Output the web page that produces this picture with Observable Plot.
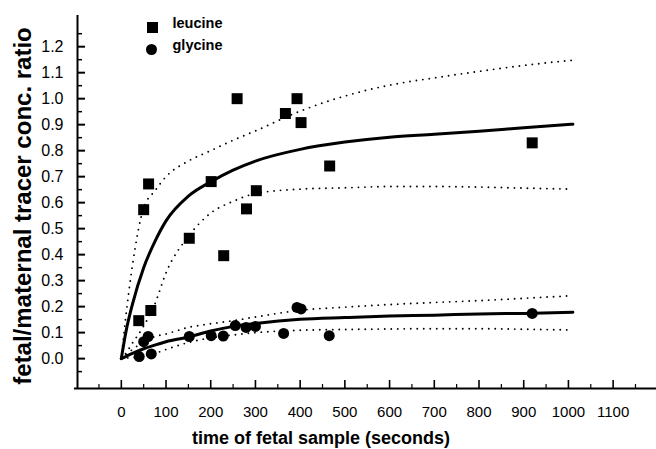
<!DOCTYPE html>
<html><head><meta charset="utf-8">
<script src="https://cdn.jsdelivr.net/npm/d3@7"></script>
<script src="https://cdn.jsdelivr.net/npm/@observablehq/plot@0.6"></script>
<style>body{margin:0;background:#fff}</style>
</head><body><div id="chart"></div>
<script>
const seriesNames = ["leucine", "glycine"];
const xTitle = "time of fetal sample (seconds)";
const yTitle = "fetal/maternal tracer conc. ratio";

const leucineTime  = [39, 50, 61, 66, 152, 201, 229, 259, 280, 302, 367, 393, 402, 466, 919];
const leucineRatio = [0.146, 0.573, 0.672, 0.185, 0.463, 0.681, 0.396, 1.0, 0.576, 0.646, 0.943, 1.0, 0.908, 0.741, 0.830];
const glycineTime  = [40, 50, 60, 67, 152, 201, 228, 255, 279, 300, 363, 393, 402, 465, 919];
const glycineRatio = [0.008, 0.065, 0.085, 0.018, 0.085, 0.088, 0.087, 0.127, 0.120, 0.124, 0.097, 0.197, 0.191, 0.088, 0.174];

const fitTime      = [0, 10, 25, 50, 75, 100, 150, 200, 250, 300, 400, 500, 600, 700, 800, 900, 1010];
const leucineFit   = [0, 0.10, 0.21, 0.35, 0.45, 0.53, 0.625, 0.68, 0.725, 0.76, 0.805, 0.833, 0.852, 0.863, 0.875, 0.888, 0.902];
const leucineUpper = [0, 0.16, 0.36, 0.58, 0.645, 0.70, 0.76, 0.80, 0.84, 0.876, 0.952, 1.01, 1.052, 1.08, 1.105, 1.128, 1.148];
const leucineLower = [0, 0.02, 0.06, 0.125, 0.21, 0.33, 0.47, 0.56, 0.605, 0.635, 0.652, 0.657, 0.662, 0.662, 0.66, 0.656, 0.652];
const glycineFit   = [0, 0.008, 0.02, 0.038, 0.052, 0.065, 0.083, 0.106, 0.124, 0.135, 0.151, 0.158, 0.164, 0.167, 0.172, 0.174, 0.178];
const glycineUpper = [0, 0.015, 0.035, 0.065, 0.085, 0.095, 0.12, 0.134, 0.146, 0.16, 0.186, 0.198, 0.208, 0.216, 0.223, 0.232, 0.242];
const glycineLower = [0, 0.002, 0.004, 0.01, 0.02, 0.035, 0.062, 0.08, 0.091, 0.1, 0.109, 0.112, 0.114, 0.115, 0.115, 0.113, 0.11];

const xMajor = [0, 100, 200, 300, 400, 500, 600, 700, 800, 900, 1000, 1100];
const xMinor = [-50, 50, 150, 250, 350, 450, 550, 650, 750, 850, 950, 1050, 1150];
const yMajor = [0, 0.1, 0.2, 0.3, 0.4, 0.5, 0.6, 0.7, 0.8, 0.9, 1.0, 1.1, 1.2];
const yMinor = [-0.05, 0.05, 0.15, 0.25, 0.35, 0.45, 0.55, 0.65, 0.75, 0.85, 0.95, 1.05, 1.15, 1.25];
const xDomain = [-98, 1197];
const yDomain = [-0.115, 1.32];

const pts = (xs, ys) => xs.map((x, i) => ({x, y: ys[i]}));
const leucine = pts(leucineTime, leucineRatio);
const glycine = pts(glycineTime, glycineRatio);
const solid = {x: "x", y: "y", stroke: "#000", strokeWidth: 3, curve: "monotone-x"};
const dotted = {x: "x", y: "y", stroke: "#000", strokeWidth: 1.9, strokeDasharray: "0,6.5", strokeLinecap: "round", curve: "monotone-x"};

const chart = Plot.plot({
  width: 656, height: 449,
  marginLeft: 77, marginRight: 0, marginTop: 15, marginBottom: 61,
  style: {fontFamily: "'Liberation Sans', Arial, sans-serif", background: "#fff", color: "#000"},
  x: {domain: xDomain, label: null},
  y: {domain: yDomain, label: null},
  marks: [
    Plot.ruleX([xDomain[0]], {stroke: "#000", strokeWidth: 2}),
    Plot.ruleY([yDomain[0]], {stroke: "#000", strokeWidth: 2, insetLeft: -3}),
    Plot.axisX(xMajor, {anchor: "bottom", tickSize: -8, strokeWidth: 1.6, fill: "none", label: null}),
    Plot.axisX(xMinor, {anchor: "bottom", tickSize: -4, strokeWidth: 1.2, fill: "none", label: null}),
    Plot.axisX(xMajor, {anchor: "bottom", tickSize: 0, tickPadding: 18, fontSize: 15, tickFormat: d => String(d), label: null}),
    Plot.axisY(yMajor, {anchor: "left", tickSize: -8, strokeWidth: 2, fill: "none", label: null}),
    Plot.axisY(yMinor, {anchor: "left", tickSize: -5, strokeWidth: 1.5, fill: "none", label: null}),
    Plot.axisY(yMajor, {anchor: "left", tickSize: 0, tickPadding: 14, fontSize: 16, tickFormat: d3.format(".1f"), label: null}),
    Plot.line(pts(fitTime, leucineUpper), dotted),
    Plot.line(pts(fitTime, leucineLower), dotted),
    Plot.line(pts(fitTime, glycineUpper), dotted),
    Plot.line(pts(fitTime, glycineLower), dotted),
    Plot.line(pts(fitTime, leucineFit), solid),
    Plot.line(pts(fitTime, glycineFit), solid),
    Plot.dot(leucine, {x: "x", y: "y", symbol: "square", r: 6.2, fill: "#000"}),
    Plot.dot(glycine, {x: "x", y: "y", symbol: "circle", r: 5.5, fill: "#000"}),
    Plot.dot([seriesNames[0]], {frameAnchor: "top-left", dx: 75, dy: 12, symbol: "square", r: 6.2, fill: "#000"}),
    Plot.dot([seriesNames[1]], {frameAnchor: "top-left", dx: 74, dy: 34, symbol: "circle", r: 5.5, fill: "#000"}),
    Plot.text([seriesNames[0]], {frameAnchor: "top-left", dx: 95, dy: 8, text: d => d, textAnchor: "start", lineAnchor: "middle", fontSize: 14.5, fontWeight: "bold"}),
    Plot.text([seriesNames[1]], {frameAnchor: "top-left", dx: 95, dy: 30, text: d => d, textAnchor: "start", lineAnchor: "middle", fontSize: 14.5, fontWeight: "bold"}),
    Plot.text([xTitle], {frameAnchor: "bottom", dx: -46, dy: 50, text: d => d, textAnchor: "middle", lineAnchor: "middle", fontSize: 18, fontWeight: "bold"}),
    Plot.text([yTitle], {frameAnchor: "left", dx: -54, dy: 4, rotate: -90, text: d => d, textAnchor: "middle", lineAnchor: "middle", fontSize: 24, fontWeight: "bold"})
  ]
});
document.getElementById("chart").append(chart);
</script>
</body></html>
